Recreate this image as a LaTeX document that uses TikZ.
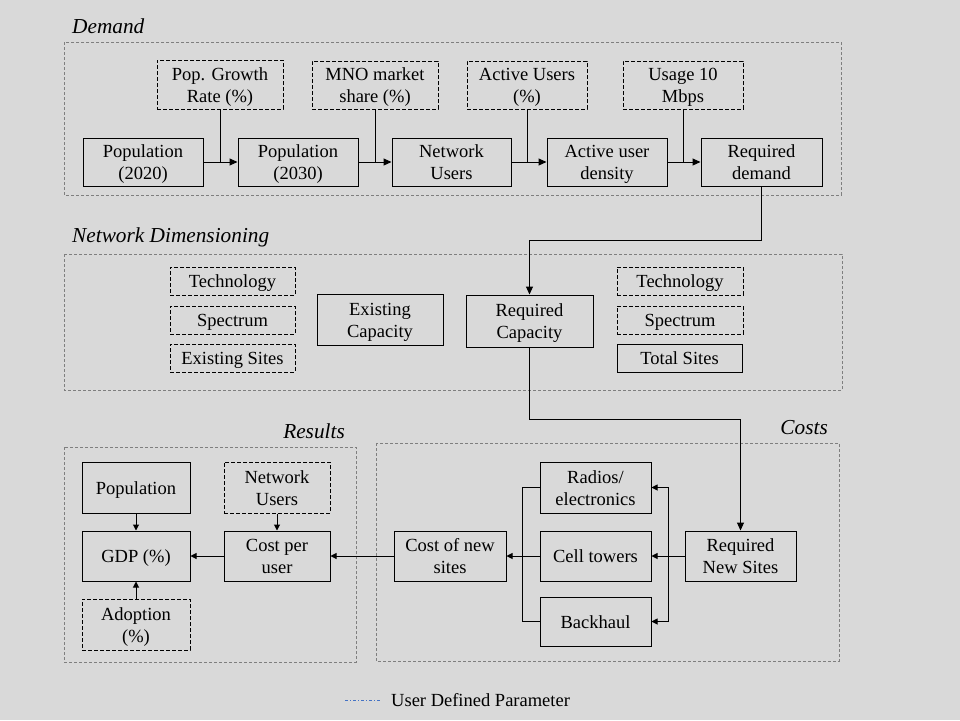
\documentclass[tikz,border=0pt]{standalone}
\usepackage{fontspec}
\setmainfont{Liberation Serif}
\usetikzlibrary{arrows.meta,calc}
\definecolor{bg}{HTML}{D9D9D9}
\definecolor{framegray}{HTML}{7F7F7F}
\definecolor{legblue}{HTML}{4472C4}
\newcommand\topst{\rule{0pt}{18pt}}
\newcommand\botst{\rule[-4.5pt]{0pt}{4.5pt}}
\begin{document}
\begin{tikzpicture}[x=1pt,y=-1pt,
 box/.style={draw=black, line width=1pt, align=center, inner sep=0pt, font=\fontsize{18.5pt}{22pt}\selectfont, minimum width=120pt, minimum height=48pt},
 parbox/.style={box, dash pattern=on 4pt off 2pt},
 frame/.style={draw=framegray, line width=1pt, dash pattern=on 3pt off 2pt},
 lbl/.style={font=\fontsize{21.3pt}{24pt}\selectfont\itshape, inner sep=0pt},
 conn/.style={draw=black, line width=1pt},
 arr/.style={conn, -{Triangle[length=8pt,width=7pt]}},
 arrs/.style={conn, -{Triangle[length=6pt,width=6pt]}},
]
\fill[bg] (0,0) rectangle (960,720);
\useasboundingbox (0,0) rectangle (960,720);

% ---------- Demand ----------
\node[lbl, anchor=west] (ldem) at (72,26) {Demand};
\draw[frame] (64,42) rectangle (841,195);
\node[parbox, minimum width=126pt, minimum height=49pt] (pgr) at (220,84.5) {\topst Pop. Growth\\Rate (\%)\botst};
\node[parbox, minimum width=126pt, minimum height=48pt] (mno) at (375,85) {\topst MNO market\\share (\%)\botst};
\node[parbox, minimum width=120pt, minimum height=48pt] (au) at (527,85) {\topst Active Users\\(\%)\botst};
\node[parbox, minimum width=120pt, minimum height=48pt] (usage) at (683,85) {\topst Usage 10\\Mbps\botst};
\node[box] (pop20) at (143,162) {\topst Population\\(2020)\botst};
\node[box] (pop30) at (298,162) {\topst Population\\(2030)\botst};
\node[box, minimum width=119pt] (nu) at (451.5,162) {\topst Network\\Users\botst};
\node[box] (aud) at (607,162) {\topst Active user\\density\botst};
\node[box, minimum width=121pt] (rd) at (761.5,162) {\topst Required\\demand\botst};
\draw[arr] (pop20.east) -- (pop30.west);
\draw[arr] (pop30.east) -- (nu.west);
\draw[arr] (nu.east) -- (aud.west);
\draw[arr] (aud.east) -- (rd.west);
\draw[conn] (pgr.south) -- (pgr.south |- pop20.east);
\draw[conn] (mno.south) -- (mno.south |- pop30.east);
\draw[conn] (au.south) -- (au.south |- nu.east);
\draw[conn] (usage.south) -- (usage.south |- aud.east);

% ---------- Network Dimensioning ----------
\node[lbl, anchor=west] (lnd) at (72,237) {Network Dimensioning};
\draw[frame] (64,254) rectangle (842,390);
\node[parbox, minimum width=125pt, minimum height=28pt] (tech1) at (232.5,281) {\topst Technology\botst};
\node[parbox, minimum width=125pt, minimum height=28pt] (spec1) at (232.5,320) {\topst Spectrum\botst};
\node[parbox, minimum width=125pt, minimum height=28pt] (es) at (232.5,358) {\topst Existing Sites\botst};
\node[box, minimum width=126pt, minimum height=51pt] (ec) at (380,319.5) {\topst Existing\\Capacity\botst};
\node[box, minimum width=127pt, minimum height=52pt] (rc) at (529.5,321) {\topst Required\\Capacity\botst};
\node[parbox, minimum width=126pt, minimum height=28pt] (tech2) at (680,281) {\topst Technology\botst};
\node[parbox, minimum width=126pt, minimum height=28pt] (spec2) at (680,320) {\topst Spectrum\botst};
\node[box, minimum width=125pt, minimum height=28pt] (ts) at (679.5,358) {\topst Total Sites\botst};
\draw[arr] (rd.south) -- ++(0,54) -| (rc.north);

% ---------- Results ----------
\node[lbl, anchor=east] (lres) at (345,431) {Results};
\draw[frame] (64,447) rectangle (356,662);
\node[box, minimum width=108pt, minimum height=51pt] (popr) at (136,487.5) {\topst Population\botst};
\node[box, minimum width=108pt, minimum height=50pt] (gdp) at (136,556) {\topst GDP (\%)\botst};
\node[parbox, minimum width=108pt, minimum height=51pt] (adop) at (136,624.5) {\topst Adoption\\(\%)\botst};
\node[parbox, minimum width=106pt, minimum height=51pt] (nur) at (277,487.5) {\topst Network\\Users\botst};
\node[box, minimum width=106pt, minimum height=50pt] (cpu) at (277,556) {\topst Cost per\\user\botst};
\draw[arrs] (popr.south) -- (gdp.north);
\draw[arrs] (adop.north) -- (gdp.south);
\draw[arrs] (nur.south) -- (cpu.north);
\draw[arrs] (cpu.west) -- (gdp.east);

% ---------- Costs ----------
\node[lbl, anchor=east] (lcost) at (828,428) {Costs};
\draw[frame] (376,443) rectangle (839,661);
\node[box, minimum width=112pt, minimum height=50pt] (cns) at (450,556) {\topst Cost of new\\sites\botst};
\node[box, minimum width=111pt, minimum height=51pt] (radios) at (595.5,487.5) {\topst Radios/\\electronics\botst};
\node[box, minimum width=111pt, minimum height=50pt] (cell) at (595.5,556) {\topst Cell towers\botst};
\node[box, minimum width=111pt, minimum height=49pt] (backhaul) at (595.5,621.5) {\topst Backhaul\botst};
\node[box, minimum width=111pt, minimum height=50pt] (rns) at (740.5,556) {\topst Required\\New Sites\botst};
\draw[arr] (rc.south) -- ++(0,72) -| (rns.north);
\coordinate (busR) at ($(cell.east)+(17,0)$);
\draw[arrs] (rns.west) -- (cell.east);
\draw[arrs] (busR) |- (radios.east);
\draw[arrs] (busR) |- (backhaul.east);
\draw[conn] (radios.west) -- ++(-17,0) |- (backhaul.west);
\draw[arrs] (cell.west) -- (cns.east);
\draw[arrs] (cns.west) -- (cpu.east);

% ---------- Legend ----------
\coordinate (lega) at (345,700);
\coordinate (legb) at (380,700);
\draw[legblue, line width=0.8pt, dash pattern=on 3pt off 2pt on 1pt off 2pt] (lega) -- (legb);
\node[anchor=west, inner sep=0pt, font=\fontsize{18.5pt}{22pt}\selectfont] (legt) at (391,700) {User Defined Parameter};
\end{tikzpicture}
\end{document}
